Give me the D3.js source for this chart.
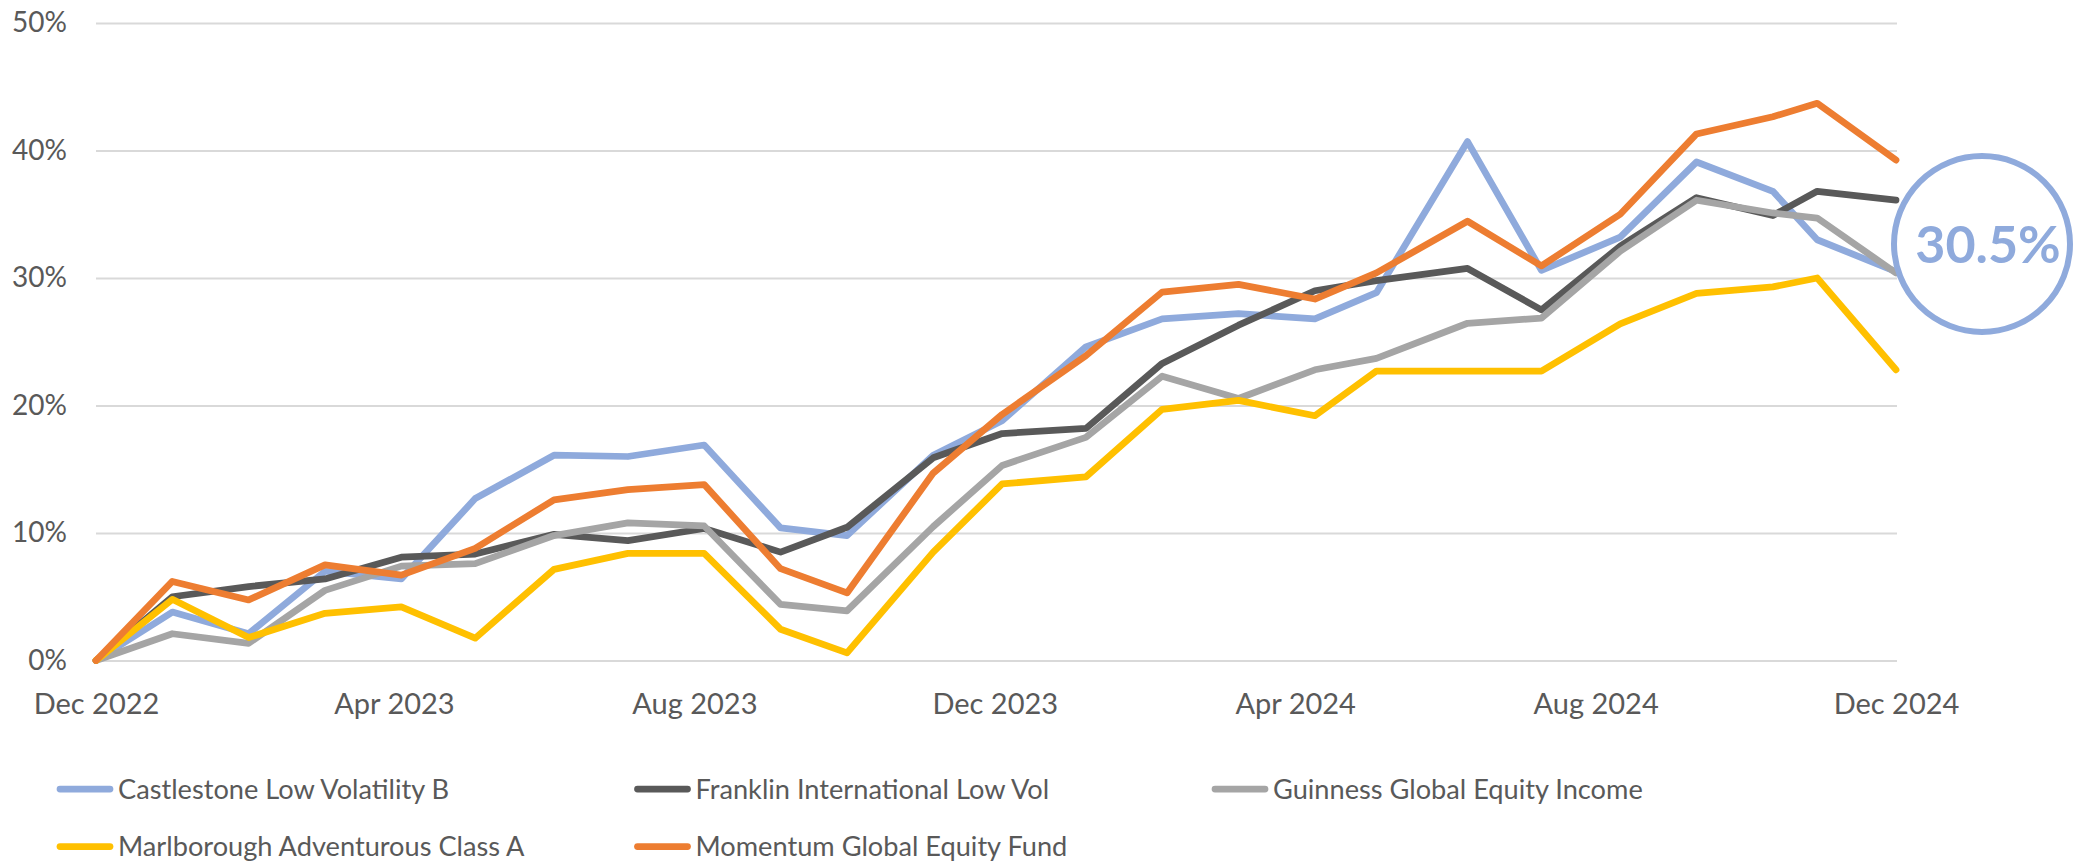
<!DOCTYPE html>
<html>
<head>
<meta charset="utf-8">
<script src="https://cdn.jsdelivr.net/npm/d3@7/dist/d3.min.js"></script>
<style>
  body { margin: 0; background: #fff; }
  text { font-family: Lato, "Open Sans", sans-serif; fill: #595959; }
</style>
</head>
<body>
<div id="chart"></div>
<script>
// data (% growth since Dec 2022)
const dates = ["2022-12-01", "2023-01-01", "2023-02-01", "2023-03-04", "2023-04-04",
    "2023-05-04", "2023-06-05", "2023-07-05", "2023-08-05", "2023-09-05", "2023-10-02",
    "2023-11-06", "2023-12-04", "2024-01-07", "2024-02-07", "2024-03-09", "2024-04-09",
    "2024-05-04", "2024-06-10", "2024-07-10", "2024-08-11", "2024-09-11", "2024-10-12",
    "2024-10-30", "2024-12-01"];

const castlestone = [0, 3.8, 2.1, 7.0, 6.4, 12.7, 16.1, 16.0, 16.9, 10.4, 9.8, 16.1, 18.8,
    24.6, 26.8, 27.2, 26.8, 28.85, 40.7, 30.6, 33.2, 39.1, 36.8, 33.0, 30.5];
const franklin = [0, 5.0, 5.8, 6.4, 8.1, 8.35, 9.9, 9.4, 10.35, 8.5, 10.45, 15.9, 17.8,
    18.2, 23.3, 26.3, 29.0, 29.8, 30.75, 27.5, 32.5, 36.3, 34.9, 36.8, 36.1];
const guinness = [0, 2.1, 1.35, 5.5, 7.4, 7.6, 9.8, 10.8, 10.55, 4.4, 3.9, 10.5, 15.3,
    17.5, 22.3, 20.55, 22.8, 23.7, 26.45, 26.85, 32.1, 36.1, 35.1, 34.7, 30.4];
const marlborough = [0, 4.8, 1.8, 3.7, 4.2, 1.75, 7.15, 8.4, 8.4, 2.45, 0.6, 8.5, 13.85,
    14.4, 19.7, 20.4, 19.2, 22.7, 22.7, 22.7, 26.4, 28.8, 29.3, 30.0, 22.8];
const momentum = [0, 6.2, 4.75, 7.5, 6.7, 8.8, 12.6, 13.4, 13.8, 7.2, 5.3, 14.7, 19.3,
    23.9, 28.9, 29.5, 28.35, 30.4, 34.45, 30.95, 35.0, 41.3, 42.65, 43.7, 39.25];

const seriesNames = ["Castlestone Low Volatility B", "Franklin International Low Vol",
    "Guinness Global Equity Income", "Marlborough Adventurous Class A", "Momentum Global Equity Fund"];
const seriesValues = [castlestone, franklin, guinness, marlborough, momentum];
const colors = ["#8FAADC", "#595959", "#A5A5A5", "#FFC000", "#ED7D31"];

const xTickDates = ["2022-12-01", "2023-04-01", "2023-08-01", "2023-12-01",
    "2024-04-01", "2024-08-01", "2024-12-01"];
const yTicks = [0, 10, 20, 30, 40, 50];
const callout = "30.5%";

const width = 2087, height = 862;
const plot = {left: 96, right: 1896, top: 23, bottom: 660.5};

const parseDate = d3.timeParse("%Y-%m-%d");

const svg = d3.select("#chart")
    .append("svg")
        .attr("width", width)
        .attr("height", height);

const x = d3.scaleTime()
    .domain([parseDate(xTickDates[0]), parseDate(xTickDates[xTickDates.length - 1])])
    .range([plot.left, plot.right]);

const y = d3.scaleLinear()
    .domain([0, 50])
    .range([plot.bottom, plot.top]);

// horizontal gridlines + y labels
const yAxis = svg.append("g")
    .attr("transform", `translate(${plot.left},0)`)
    .call(d3.axisLeft(y)
        .tickValues(yTicks)
        .tickSize(-(plot.right - plot.left + 1))
        .tickPadding(29)
        .tickFormat(d => d + "%"));
yAxis.select(".domain").remove();
yAxis.selectAll(".tick line")
    .attr("stroke", "#D9D9D9")
    .attr("stroke-width", 2);
yAxis.selectAll(".tick text")
    .style("font-size", "28px")
    .attr("fill", "#595959");

// x labels
const xAxis = svg.append("g")
    .attr("transform", `translate(0,${plot.bottom})`)
    .call(d3.axisBottom(x)
        .tickValues(xTickDates.map(parseDate))
        .tickSize(0)
        .tickPadding(33)
        .tickFormat(d3.timeFormat("%b %Y")));
xAxis.select(".domain").remove();
xAxis.selectAll(".tick text")
    .style("font-size", "29px")
    .attr("fill", "#595959");

// lines
const line = d3.line()
    .x((d, i) => x(parseDate(dates[i])))
    .y(d => y(d));

svg.append("g")
    .selectAll("path")
    .data(seriesValues)
    .enter()
    .append("path")
        .attr("d", line)
        .attr("fill", "none")
        .attr("stroke", (d, i) => colors[i])
        .attr("stroke-width", 6.75)
        .attr("stroke-linejoin", "round")
        .attr("stroke-linecap", "round");

// callout circle on the Castlestone end value
const cx = 1982, cy = 244;
svg.append("circle")
    .attr("cx", cx)
    .attr("cy", cy)
    .attr("r", 88)
    .attr("fill", "none")
    .attr("stroke", colors[0])
    .attr("stroke-width", 6);
svg.append("text")
    .attr("x", cx + 6)
    .attr("y", 263)
    .attr("text-anchor", "middle")
    .style("font-size", "52px")
    .style("font-weight", "bold")
    .style("fill", colors[0])
    .text(callout);

// legend, 3 columns
const legend = svg.append("g");
seriesNames.forEach((name, i) => {
    const col = i % 3, row = Math.floor(i / 3);
    const lx = 60 + col * 577.5, ly = 789 + row * 57.5;
    const item = legend.append("g").attr("transform", `translate(${lx},${ly})`);
    item.append("line")
        .attr("x1", 0).attr("x2", 50)
        .attr("stroke", colors[i])
        .attr("stroke-width", 6.75)
        .attr("stroke-linecap", "round");
    item.append("text")
        .attr("x", 58)
        .attr("dy", "0.36em")
        .style("font-size", "27.2px")
        .text(name);
});
</script>
</body>
</html>
